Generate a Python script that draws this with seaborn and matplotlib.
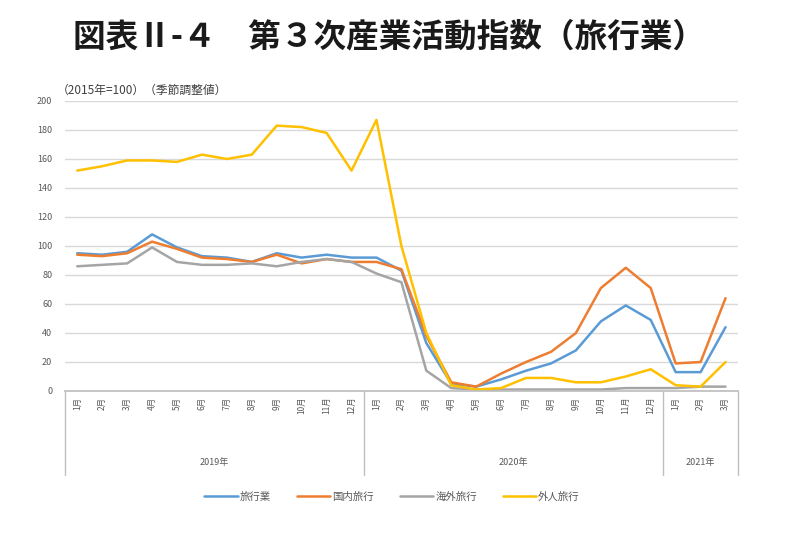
import matplotlib
matplotlib.use("Agg")
import matplotlib.pyplot as plt
import matplotlib.transforms as mtransforms
import seaborn as sns
import pandas as pd
import numpy as np

months = ["1月", "2月", "3月", "4月", "5月", "6月", "7月", "8月", "9月", "10月", "11月", "12月",
          "1月", "2月", "3月", "4月", "5月", "6月", "7月", "8月", "9月", "10月", "11月", "12月",
          "1月", "2月", "3月"]
years = ["2019年", "2020年", "2021年"]
year_counts = [12, 12, 3]

travel = [95, 94, 96, 108, 99, 93, 92, 89, 95, 92, 94, 92,
          92, 83, 33, 5, 3, 8, 14, 19, 28, 48, 59, 49,
          13, 13, 44]
domestic = [94, 93, 95, 103, 98, 92, 91, 89, 94, 88, 91, 89,
            89, 84, 38, 6, 3, 12, 20, 27, 40, 71, 85, 71,
            19, 20, 64]
overseas = [86, 87, 88, 99, 89, 87, 87, 88, 86, 89, 91, 89,
            81, 75, 14, 2, 1, 1, 1, 1, 1, 1, 2, 2,
            2, 3, 3]
inbound = [152, 155, 159, 159, 158, 163, 160, 163, 183, 182, 178, 152,
           187, 100, 40, 4, 1, 2, 9, 9, 6, 6, 10, 15,
           4, 3, 20]

series_names = ["旅行業", "国内旅行", "海外旅行", "外人旅行"]
series_values = [travel, domestic, overseas, inbound]
colors = ["#5B9BD5", "#ED7D31", "#A5A5A5", "#FFC000"]

sns.set_theme(style="white")
plt.rcParams['font.family'] = ['Noto Sans CJK JP', 'DejaVu Sans']

rows = []
for name, vals in zip(series_names, series_values):
    for i, v in enumerate(vals):
        rows.append({"pos": i, "value": v, "series": name})
df = pd.DataFrame(rows)

fig = plt.figure(figsize=(8, 5.58), dpi=100)
ax = fig.add_axes([0.081, 0.2993, 0.8415, 0.5197])

sns.lineplot(data=df, x="pos", y="value", hue="series", hue_order=series_names,
             palette=colors, linewidth=1.8, ax=ax, legend=True)

ax.set_ylim(0, 200)
ax.set_xlim(-0.5, len(months) - 0.5)
ax.set_yticks(np.arange(0, 201, 20))
ax.yaxis.grid(True, color="#D9D9D9", linewidth=1.0)
ax.xaxis.grid(False)
for s in ["top", "right", "left"]:
    ax.spines[s].set_visible(False)
ax.spines["bottom"].set_color("#BFBFBF")
ax.set_xlabel("")
ax.set_ylabel("")
ax.set_xticks(range(len(months)))
ax.set_xticklabels(months, rotation=90, fontsize=6, color="#595959")
ax.tick_params(axis="x", length=0, pad=4)
ax.tick_params(axis="y", length=0, pad=9, labelsize=6.5, labelcolor="#595959")

# multi-level category axis: separators and year labels
trans = mtransforms.blended_transform_factory(ax.transData, ax.transAxes)
bounds = [-0.5]
for c in year_counts:
    bounds.append(bounds[-1] + c)
for b in bounds:
    ax.plot([b, b], [0, -0.29], transform=trans, color="#BFBFBF", linewidth=1.0, clip_on=False)
for i, y in enumerate(years):
    mid = (bounds[i] + bounds[i + 1]) / 2
    ax.text(mid, -0.245, y, transform=trans, ha="center", va="center", fontsize=6.5, color="#595959")

leg = ax.legend(loc="upper center", bbox_to_anchor=(0.486, -0.315), ncol=4, frameon=False,
                fontsize=7.5, handlelength=3.2, columnspacing=2.5, handletextpad=0.2)
for t in leg.get_texts():
    t.set_color("#595959")

fig.text(0.486, 0.934, "図表Ⅱ-４　第３次産業活動指数（旅行業）", ha="center", va="center",
         fontsize=23.5, fontweight="bold", color="#1a1a1a")
fig.text(0.071, 0.838, "（2015年=100）（季節調整値）", ha="left", va="center",
         fontsize=8.5, color="#404040")

fig.savefig("out.png", dpi=100)
